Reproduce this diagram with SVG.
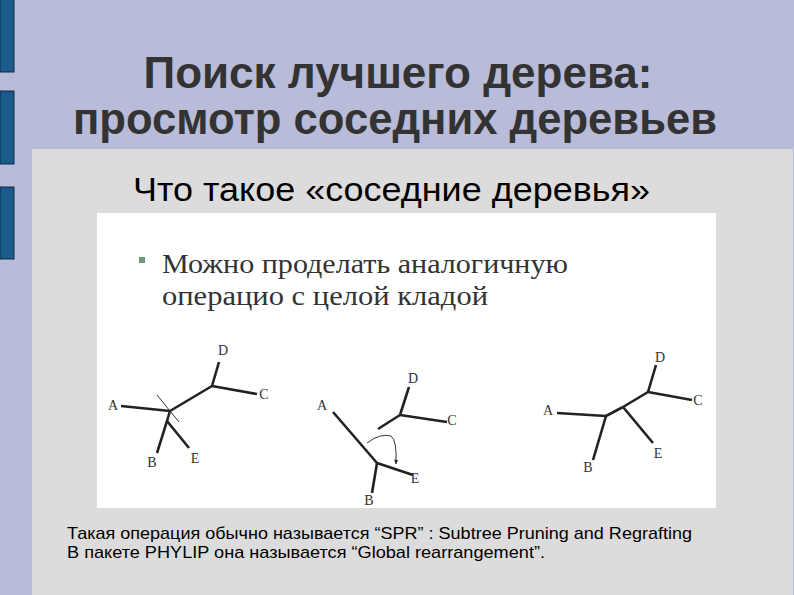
<svg xmlns="http://www.w3.org/2000/svg" width="794" height="595" viewBox="0 0 794 595">
<style>
.bar{fill:#1b5b8b;stroke:#0d2a44;stroke-width:1}
.title{font-family:"Liberation Sans",Arial,sans-serif;font-weight:bold;font-size:44px;fill:#333333;text-anchor:middle}
.sub{font-family:"Liberation Sans",Arial,sans-serif;font-size:33px;fill:#000000}
.ser{font-family:"Liberation Serif","Times New Roman",serif;font-size:27px;fill:#333333}
.lbl{font-family:"Liberation Serif","Times New Roman",serif;font-size:14px;fill:#333333;text-anchor:middle}
.edge{stroke:#222222;stroke-width:2.6;fill:none;stroke-linecap:butt}
.thin{stroke:#333333;stroke-width:1;fill:none}
.note{font-family:"Liberation Sans",Arial,sans-serif;font-size:17px;fill:#000000}
</style>
<defs>
<marker id="ah" viewBox="0 0 10 10" refX="9" refY="5" markerWidth="5" markerHeight="5" orient="auto">
<path d="M0,1 L10,5 L0,9 z" fill="#222222"/>
</marker>
</defs>
<rect x="0" y="0" width="794" height="595" fill="#b8bcd8"/>
<rect class="bar" x="0" y="-1" width="14" height="73"/>
<rect class="bar" x="0" y="91" width="14" height="73"/>
<rect class="bar" x="0" y="187" width="14" height="72"/>
<rect x="32" y="149" width="761" height="446" fill="#dcdcdc"/>
<text class="title" x="398" y="88" textLength="509" lengthAdjust="spacingAndGlyphs">Поиск лучшего дерева:</text>
<text class="title" x="395" y="134" textLength="644" lengthAdjust="spacingAndGlyphs">просмотр соседних деревьев</text>
<text class="sub" x="133" y="201" textLength="517" lengthAdjust="spacingAndGlyphs">Что такое «соседние деревья»</text>
<rect x="97" y="213" width="619" height="295" fill="#ffffff"/>
<rect x="139" y="257" width="6" height="6" fill="#6a9a7a"/>
<text class="ser" x="162" y="273" textLength="406" lengthAdjust="spacingAndGlyphs">Можно проделать аналогичную</text>
<text class="ser" x="162" y="305" textLength="326" lengthAdjust="spacingAndGlyphs">операцио с целой кладой</text>
<g id="connectors">
<g id="tree1-edges">
<line class="edge" x1="121" y1="406" x2="170" y2="411"/>
<line class="edge" x1="170" y1="411" x2="212" y2="386"/>
<line class="edge" x1="212" y1="386" x2="219" y2="362"/>
<line class="edge" x1="212" y1="386" x2="257" y2="394"/>
<line class="edge" x1="170" y1="411" x2="167" y2="421"/>
<line class="edge" x1="167" y1="421" x2="157" y2="453"/>
<line class="edge" x1="167" y1="421" x2="189" y2="448"/>
<line class="thin" x1="157" y1="395" x2="179" y2="422"/>
</g>
<g id="tree2-edges">
<line class="edge" x1="333" y1="412" x2="377" y2="463"/>
<line class="edge" x1="377" y1="463" x2="372" y2="493"/>
<line class="edge" x1="377" y1="463" x2="413" y2="475"/>
<line class="edge" x1="378" y1="429" x2="400" y2="415"/>
<line class="edge" x1="400" y1="415" x2="409" y2="387"/>
<line class="edge" x1="400" y1="415" x2="447" y2="422"/>
<path class="thin" d="M367,443 Q380,433 391,436 Q397,440 396,464" marker-end="url(#ah)"/>
</g>
<g id="tree3-edges">
<line class="edge" x1="557" y1="413" x2="606" y2="416"/>
<line class="edge" x1="606" y1="416" x2="593" y2="460"/>
<line class="edge" x1="606" y1="416" x2="623" y2="407"/>
<line class="edge" x1="623" y1="407" x2="653" y2="443"/>
<line class="edge" x1="623" y1="407" x2="648" y2="392"/>
<line class="edge" x1="648" y1="392" x2="656" y2="365"/>
<line class="edge" x1="648" y1="392" x2="692" y2="400"/>
</g>
</g>
<g id="tree1">
<g id="t1-A"><text class="lbl" x="113" y="410">A</text></g>
<g id="t1-D"><text class="lbl" x="223" y="355">D</text></g>
<g id="t1-C"><text class="lbl" x="264" y="399">C</text></g>
<g id="t1-B"><text class="lbl" x="152" y="467">B</text></g>
<g id="t1-E"><text class="lbl" x="195" y="463">E</text></g>
</g>
<g id="tree2">
<g id="t2-A"><text class="lbl" x="322" y="410">A</text></g>
<g id="t2-D"><text class="lbl" x="413" y="383">D</text></g>
<g id="t2-C"><text class="lbl" x="452" y="425">C</text></g>
<g id="t2-B"><text class="lbl" x="369" y="505">B</text></g>
<g id="t2-E"><text class="lbl" x="415" y="483">E</text></g>
</g>
<g id="tree3">
<g id="t3-A"><text class="lbl" x="548" y="415">A</text></g>
<g id="t3-D"><text class="lbl" x="660" y="362">D</text></g>
<g id="t3-C"><text class="lbl" x="698" y="405">C</text></g>
<g id="t3-B"><text class="lbl" x="588" y="472">B</text></g>
<g id="t3-E"><text class="lbl" x="658" y="458">E</text></g>
</g>
<text class="note" x="67" y="539" textLength="625" lengthAdjust="spacingAndGlyphs">Такая операция обычно называется “SPR” : Subtree Pruning and Regrafting</text>
<text class="note" x="67" y="558" textLength="478" lengthAdjust="spacingAndGlyphs">В пакете PHYLIP она называется “Global rearrangement”.</text>
</svg>
